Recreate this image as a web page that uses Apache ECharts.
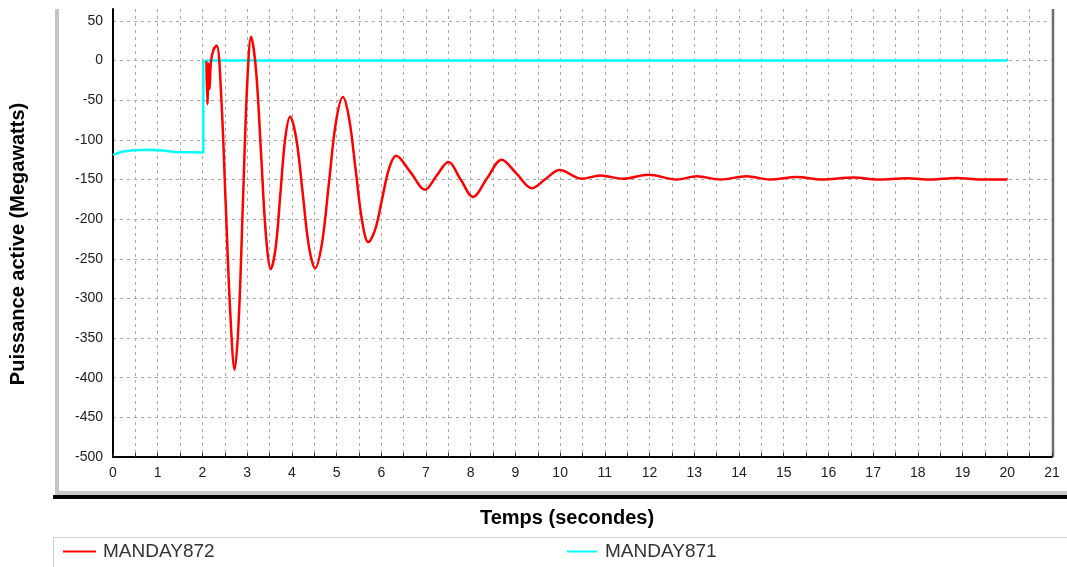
<!DOCTYPE html>
<html>
<head>
<meta charset="utf-8">
<script src="https://cdn.jsdelivr.net/npm/echarts@6/dist/echarts.min.js"></script>
<style>
html,body{margin:0;padding:0;background:#fff;}
#chart{width:1067px;height:567px;}
</style>
</head>
<body>
<div id="chart"></div>
<script>
// ---- data ----
const seriesNames = ['MANDAY872', 'MANDAY871'];
const yTitle = 'Puissance active (Megawatts)';
const xTitle = 'Temps (secondes)';

const t872 = [2.09, 2.11, 2.14, 2.16, 2.19, 2.25, 2.32, 2.42, 2.52, 2.62, 2.72, 2.81, 2.905, 3.00, 3.09,
  3.20, 3.31, 3.42, 3.53, 3.64, 3.745, 3.85, 3.96, 4.10, 4.24, 4.38, 4.52, 4.675, 4.83, 4.985, 5.14,
  5.28, 5.425, 5.57, 5.71, 5.865, 6.02, 6.175, 6.33, 6.655, 6.98, 7.24, 7.50, 7.775, 8.05, 8.37, 8.69,
  9.03, 9.37, 9.68, 9.99, 10.48, 10.9, 11.41, 11.97, 12.61, 13.06, 13.58, 14.17, 14.70, 15.30, 15.85,
  16.56, 17.10, 17.76, 18.30, 18.87, 19.40, 20.00];
const p872 = [-1, -55, -4, -36, -2, 14, 19, -45, -180, -315, -390, -329, -180, -31, 30,
  -13, -116, -220, -263, -235, -167, -99, -71, -99, -166, -234, -262, -230, -154, -78, -46,
  -73, -137, -202, -229, -213, -174, -136, -120, -141, -163, -145, -128, -150, -172, -148, -125,
  -143, -161, -149, -138, -149, -145, -149, -144, -150, -146, -150, -146, -150, -147, -150,
  -147.5, -150, -148.5, -150, -148, -150, -150];

const t871 = [0, 0.2, 0.45, 0.8, 1.1, 1.4, 2.02, 2.02, 2.1, 20.0];
const p871 = [-119, -115, -113, -112.5, -113.5, -115.3, -116, -1, 0, 0];

const xTicks = { min: 0, max: 21, step: 0.5 };
const yTicks = { min: -500, max: 65, step: 50 };

// ---- chart ----
const FONT = 'Liberation Sans, Arial, sans-serif';
const pairs = (ts, vs) => ts.map((t, i) => [t, vs[i]]);

const chart = echarts.init(document.getElementById('chart'), null, { renderer: 'canvas' });
chart.setOption({
  backgroundColor: '#ffffff',
  animation: false,
  grid: { left: 113, right: 15, top: 9, bottom: 110, containLabel: false },
  xAxis: {
    type: 'value',
    min: xTicks.min, max: xTicks.max, interval: xTicks.step,
    axisLine: { show: true, onZero: false, lineStyle: { color: '#000', width: 2 } },
    axisTick: { show: true, inside: true, length: 4, lineStyle: { color: '#333', width: 1 } },
    axisLabel: {
      margin: 9, color: '#222', fontFamily: FONT, fontSize: 14,
      formatter: v => (Math.abs(v - Math.round(v)) < 1e-6 ? String(Math.round(v)) : '')
    },
    splitLine: { show: true, showMaxLine: false, lineStyle: { color: '#a8a8a8', type: [3, 4], width: 1 } }
  },
  yAxis: {
    type: 'value',
    min: yTicks.min, max: yTicks.max, interval: yTicks.step,
    axisLine: { show: true, onZero: false, lineStyle: { color: '#000', width: 2 } },
    axisTick: { show: false },
    axisLabel: { margin: 10, color: '#222', fontFamily: FONT, fontSize: 14, showMaxLabel: false },
    splitLine: { show: true, showMaxLine: false, showMinLine: false, lineStyle: { color: '#a8a8a8', type: [3, 4], width: 1 } }
  },
  legend: [
    {
      data: [seriesNames[0]], left: 63, top: 542, padding: 0, icon: 'rect', itemWidth: 33, itemHeight: 2,
      textStyle: { fontFamily: FONT, fontSize: 19, color: '#333', padding: [0, 0, 0, 2] }
    },
    {
      data: [seriesNames[1]], left: 567, top: 542, padding: 0, icon: 'rect', itemWidth: 30, itemHeight: 2,
      textStyle: { fontFamily: FONT, fontSize: 19, color: '#333', padding: [0, 0, 0, 3] }
    }
  ],
  series: [
    {
      name: seriesNames[0], type: 'line', data: pairs(t872, p872), smooth: 0.35,
      showSymbol: false, symbol: 'none', z: 4,
      lineStyle: { color: '#ff0000', width: 2.5 }, itemStyle: { color: '#ff0000' }
    },
    {
      name: seriesNames[1], type: 'line', data: pairs(t871, p871), smooth: false,
      showSymbol: false, symbol: 'none', z: 3,
      lineStyle: { color: '#00ffff', width: 2.5 }, itemStyle: { color: '#00ffff' }
    }
  ],
  graphic: [
    // outer panel frame
    { type: 'rect', shape: { x: 55, y: 9, width: 4, height: 484 }, style: { fill: '#c4c4c4' }, silent: true },
    { type: 'rect', shape: { x: 55, y: 491, width: 1012, height: 4 }, style: { fill: '#c8c8c8' }, silent: true },
    { type: 'rect', shape: { x: 53, y: 495, width: 1014, height: 4 }, style: { fill: '#000' }, silent: true },
    // plot right border
    { type: 'line', shape: { x1: 1053, y1: 9, x2: 1053, y2: 457 }, style: { stroke: '#6e6e6e', lineWidth: 2.5 }, silent: true },
    // legend box
    { type: 'line', shape: { x1: 53, y1: 537.5, x2: 1067, y2: 537.5 }, style: { stroke: '#d2d2d2', lineWidth: 1 }, silent: true },
    { type: 'line', shape: { x1: 53.5, y1: 537, x2: 53.5, y2: 567 }, style: { stroke: '#d2d2d2', lineWidth: 1 }, silent: true },
    // axis titles
    {
      type: 'text', x: 18, y: 244, rotation: Math.PI / 2, silent: true,
      style: { text: yTitle, font: 'bold 20px ' + FONT, fill: '#000', align: 'center', verticalAlign: 'middle',
               textAlign: 'center', textVerticalAlign: 'middle' }
    },
    {
      type: 'text', x: 567, y: 518, silent: true,
      style: { text: xTitle, font: 'bold 20px ' + FONT, fill: '#000', align: 'center', verticalAlign: 'middle',
               textAlign: 'center', textVerticalAlign: 'middle' }
    }
  ]
});
</script>
</body>
</html>
